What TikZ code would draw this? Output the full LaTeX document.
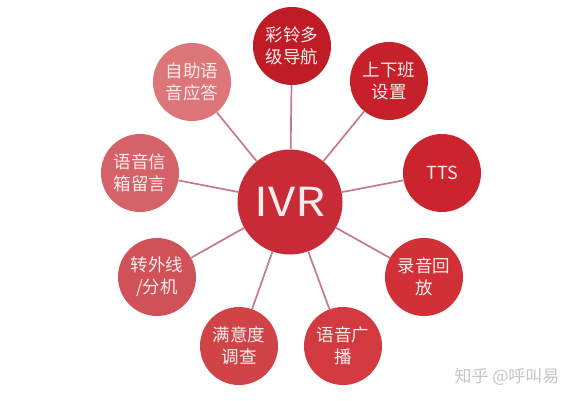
\documentclass[tikz,border=0pt]{standalone}
\usepackage{fontspec}
\newfontfamily\cjk{Noto Sans CJK SC}
\definecolor{spokec}{RGB}{196,122,136}
\definecolor{txtc}{RGB}{252,236,236}
\definecolor{civr}{RGB}{200,42,54}
\definecolor{cnav}{RGB}{192,28,38}
\definecolor{cwork}{RGB}{198,32,42}
\definecolor{ctts}{RGB}{204,36,46}
\definecolor{crec}{RGB}{208,48,54}
\definecolor{cbc}{RGB}{210,58,64}
\definecolor{csat}{RGB}{208,68,72}
\definecolor{ctr}{RGB}{208,82,88}
\definecolor{cvm}{RGB}{212,98,104}
\definecolor{cself}{RGB}{220,118,120}
\definecolor{wm}{RGB}{198,198,198}
\begin{document}
\begin{tikzpicture}[x=1pt,y=-1pt,
  bub/.style={circle, inner sep=0pt, minimum size=78pt, text=txtc,
    font=\cjk\fontsize{17.5}{22}\selectfont, align=center},
  spoke/.style={draw=spokec, line width=1.7pt}]
\useasboundingbox (0,0) rectangle (573,400);
\fill[white] (0,0) rectangle (573,400);
\node[bub, fill=civr, minimum size=105pt, font=\cjk\fontsize{40}{42}\selectfont] (ivr) at (290,202) {\scalebox{1.18}[1]{IVR}};
\node[bub, fill=cnav] (nav) at (292,46) {彩铃多\\级导航};
\node[bub, fill=cwork] (work) at (389,81) {上下班\\设置};
\node[bub, fill=ctts, font=\cjk\fontsize{18}{22}\selectfont] (tts) at (442,173) {TTS};
\node[bub, fill=crec] (rec) at (424,277) {录音回\\放};
\node[bub, fill=cbc] (bc) at (343,346) {语音广\\播};
\node[bub, fill=csat] (sat) at (239,346) {满意度\\调查};
\node[bub, fill=ctr] (tr) at (157,277) {转外线\\/分机};
\node[bub, fill=cvm] (vm) at (140,173) {语音信\\箱留言};
\node[bub, fill=cself] (self) at (192,82) {自助语\\音应答};
\foreach \n in {nav,work,tts,rec,bc,sat,tr,vm,self}
  \draw[spoke] (ivr) -- (\n);
\node[text=wm, font=\cjk\fontsize{17}{19}\selectfont, anchor=center] (wmk) at (507,377) {知乎 @呼叫易};
\end{tikzpicture}
\end{document}
